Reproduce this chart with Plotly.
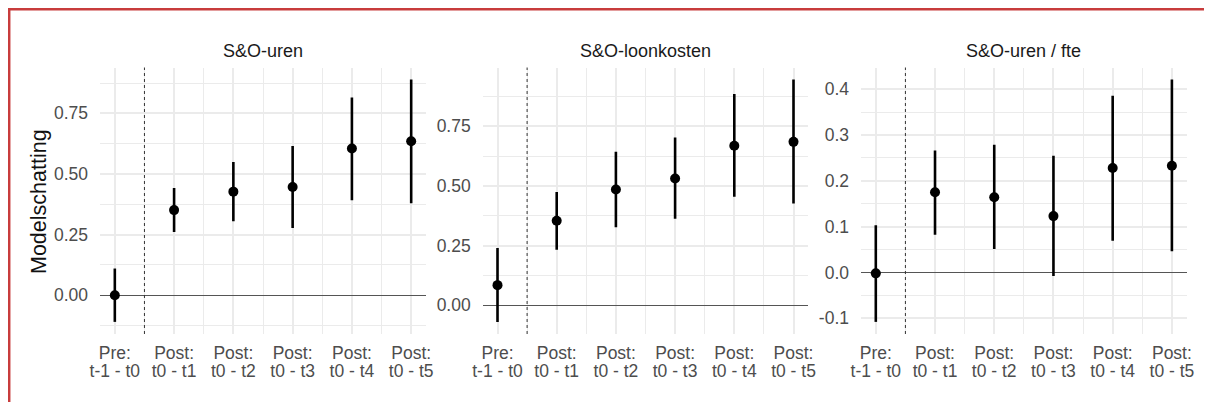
import plotly.graph_objects as go

# ---------------- data ----------------
periods_line1 = ["Pre:", "Post:", "Post:", "Post:", "Post:", "Post:"]
periods_line2 = ["t-1 - t0", "t0 - t1", "t0 - t2", "t0 - t3", "t0 - t4", "t0 - t5"]
panel_titles = ["S&O-uren", "S&O-loonkosten", "S&O-uren / fte"]

uren_est = [0.000, 0.351, 0.427, 0.446, 0.605, 0.635]
uren_low = [-0.110, 0.261, 0.305, 0.277, 0.392, 0.379]
uren_high = [0.110, 0.442, 0.549, 0.615, 0.815, 0.889]

loon_est = [0.084, 0.354, 0.485, 0.531, 0.669, 0.685]
loon_low = [-0.070, 0.233, 0.327, 0.362, 0.455, 0.426]
loon_high = [0.240, 0.475, 0.644, 0.703, 0.886, 0.946]

fte_est = [-0.002, 0.175, 0.164, 0.123, 0.228, 0.233]
fte_low = [-0.108, 0.082, 0.051, -0.008, 0.069, 0.046]
fte_high = [0.103, 0.266, 0.279, 0.255, 0.386, 0.421]

ytick_vals = [
    [0.0, 0.25, 0.5, 0.75],
    [0.0, 0.25, 0.5, 0.75],
    [-0.1, 0.0, 0.1, 0.2, 0.3, 0.4],
]
ytick_text = [
    ["0.00", "0.25", "0.50", "0.75"],
    ["0.00", "0.25", "0.50", "0.75"],
    ["-0.1", "0.0", "0.1", "0.2", "0.3", "0.4"],
]
y_label = "Modelschatting"

# ---------------- layout helpers ----------------
OFF = 8                      # default page (body) margin around the figure
W, H = 1212 - 2 * OFF, 410 - 2 * OFF
FONT = "Liberation Sans, Arial, sans-serif"
panels_px = [(100, 426), (482.7, 808.3), (861, 1186.7)]   # page pixels
top_px, bot_px = 67.5, 334


def px(xp):
    return (xp - OFF) / W


def py(yp):
    return 1 - (yp - OFF) / H


ydom = [py(bot_px), py(top_px)]

series = [
    (uren_est, uren_low, uren_high),
    (loon_est, loon_low, loon_high),
    (fte_est, fte_low, fte_high),
]
xpos = list(range(len(periods_line1)))
first_post = periods_line1.index("Post:")

fig = go.Figure()
layout = dict(
    width=W, height=H,
    margin=dict(l=0, r=0, t=0, b=0),
    paper_bgcolor="white", plot_bgcolor="white",
    showlegend=False,
    font=dict(family=FONT, color="#4d4d4d", size=17.5),
)
shapes = []
annotations = []
grid_col = "#ebebeb"

for i, (est, lo, hi) in enumerate(series):
    n = i + 1
    m = n + 3
    xa = "x" if n == 1 else f"x{n}"
    ya = "y" if n == 1 else f"y{n}"
    xb = f"x{m}"
    fig.add_trace(go.Scatter(
        x=xpos, y=est, mode="markers",
        xaxis=xa, yaxis=ya,
        marker=dict(color="black", size=10),
        error_y=dict(type="data", symmetric=False,
                     array=[h - e for h, e in zip(hi, est)],
                     arrayminus=[e - l for e, l in zip(est, lo)],
                     thickness=2.6, width=0, color="black"),
        hoverinfo="skip",
    ))
    # invisible companion trace so the overlaying label axis is drawn
    fig.add_trace(go.Scatter(
        x=xpos, y=est, mode="markers", xaxis=xb, yaxis=ya,
        marker=dict(color="rgba(0,0,0,0)", size=1), hoverinfo="skip",
    ))
    ymin, ymax = min(lo), max(hi)
    pad = 0.05 * (ymax - ymin)
    xr = [xpos[0] - 0.25, xpos[-1] + 0.25]
    x0p, x1p = panels_px[i]
    dom = [px(x0p), px(x1p)]
    major = ytick_vals[i][1] - ytick_vals[i][0]
    layout[f"xaxis{n}" if n > 1 else "xaxis"] = dict(
        domain=dom, anchor=ya, range=xr, automargin=False,
        tickmode="array", tickvals=xpos, ticktext=periods_line1,
        showgrid=True, gridcolor=grid_col, gridwidth=1.5,
        minor=dict(tickmode="linear", tick0=0.5, dtick=1, showgrid=True,
                   gridcolor=grid_col, gridwidth=1),
        zeroline=False, showline=False, ticks="",
        ticklabelstandoff=6,
        fixedrange=True,
    )
    layout[f"yaxis{n}" if n > 1 else "yaxis"] = dict(
        domain=ydom, anchor=xa, range=[ymin - pad, ymax + pad], automargin=False,
        tickmode="array", tickvals=ytick_vals[i], ticktext=ytick_text[i],
        showgrid=True, gridcolor=grid_col, gridwidth=1.5,
        minor=dict(tickmode="linear", tick0=ytick_vals[i][0] - major / 2,
                   dtick=major, showgrid=True, gridcolor=grid_col, gridwidth=1),
        zeroline=True, zerolinecolor="#555555", zerolinewidth=1.3,
        showline=False, ticks="",
        ticklabelstandoff=11,
        fixedrange=True,
    )
    # second line of the x tick labels on an overlaying axis
    layout[f"xaxis{m}"] = dict(
        overlaying=xa, anchor=ya, side="bottom", range=xr, automargin=False,
        tickmode="array", tickvals=xpos, ticktext=periods_line2,
        showgrid=False, zeroline=False, showline=False, ticks="",
        ticklabelstandoff=24, fixedrange=True,
    )
    # dashed separator between pre and post
    shapes.append(dict(type="line", xref=xa, yref=f"{ya} domain",
                       x0=first_post - 0.5, x1=first_post - 0.5, y0=0, y1=1,
                       layer="above",
                       line=dict(color="#333333", width=1, dash="3px,3px")))
    annotations.append(dict(text=panel_titles[i], xref="paper", yref="paper",
                            x=(dom[0] + dom[1]) / 2, y=py(51.5),
                            xanchor="center", yanchor="middle", showarrow=False,
                            font=dict(family=FONT, size=18, color="#1a1a1a")))

annotations.append(dict(text=y_label, xref="paper", yref="paper",
                        x=px(39), y=py(202), textangle=-90,
                        xanchor="center", yanchor="middle", showarrow=False,
                        font=dict(family=FONT, size=21.5, color="#111111")))

# red frame around the figure (top and left edges)
shapes.append(dict(type="line", xref="paper", yref="paper",
                   x0=0, x1=1, y0=1 - 1.2 / H, y1=1 - 1.2 / H,
                   line=dict(color="#c83c3c", width=2.5)))
shapes.append(dict(type="line", xref="paper", yref="paper",
                   x0=1.2 / W, x1=1.2 / W, y0=0, y1=1,
                   line=dict(color="#c83c3c", width=2.5)))

layout["shapes"] = shapes
layout["annotations"] = annotations
fig.update_layout(**layout)
fig.write_html("out.html")
